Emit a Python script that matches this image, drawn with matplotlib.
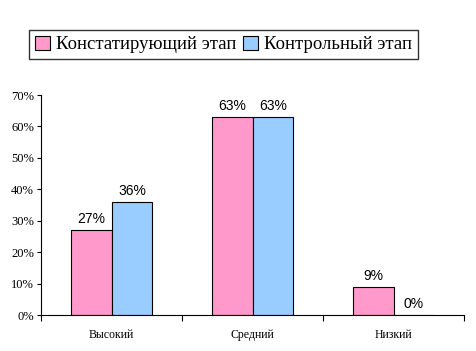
import matplotlib
matplotlib.use("Agg")
import matplotlib.pyplot as plt
from matplotlib.patches import Patch
import numpy as np

categories = ["Высокий", "Средний", "Низкий"]
series_names = ["Констатирующий этап", "Контрольный этап"]
s1 = [27, 63, 9]
s2 = [36, 63, 0]
colors = ["#FF99CC", "#99CCFF"]
yticks = [0, 10, 20, 30, 40, 50, 60, 70]

fig = plt.figure(figsize=(4.77, 3.51), dpi=100)
ax = fig.add_axes([41/477, 36/351, 423/477, 220/351])

x = np.arange(len(categories))
w = 0.29
b1 = ax.bar(x - w/2, s1, w, color=colors[0], edgecolor="black", linewidth=0.8)
b2 = ax.bar(x + w/2, s2, w, color=colors[1], edgecolor="black", linewidth=0.8)

for bars, vals in ((b1, s1), (b2, s2)):
    for r, v in zip(bars, vals):
        ax.annotate(f"{v}%", (r.get_x() + r.get_width()/2, v), xytext=(0, 3),
                    textcoords="offset points", ha="center", va="bottom",
                    fontsize=10, family="Liberation Sans")

ax.set_xlim(-0.5, len(categories) - 0.5)
ax.set_ylim(0, 70)
ax.set_yticks(yticks)
ax.set_yticklabels([f"{t}%" for t in yticks], family="Liberation Serif", fontsize=9)
ax.set_xticks(x)
ax.set_xticklabels(categories, family="Liberation Serif", fontsize=8.5)
ax.tick_params(axis="x", which="major", length=0, pad=10)
ax.set_xticks(np.arange(-0.5, len(categories)), minor=True)
ax.tick_params(axis="x", which="minor", length=4, width=0.8, direction="out")
ax.tick_params(axis="y", length=3, width=0.8, direction="out", pad=2)
for s in ("top", "right"):
    ax.spines[s].set_visible(False)
for s in ("left", "bottom"):
    ax.spines[s].set_linewidth(0.8)

handles = [Patch(facecolor=c, edgecolor="black", linewidth=0.8) for c in colors]
leg = fig.legend(handles, series_names, loc="center", bbox_to_anchor=(223.5/477, 306.5/351),
                 ncol=2, prop={"family": "Liberation Serif", "size": 13.5}, frameon=True,
                 fancybox=False, edgecolor="black", handlelength=0.8, handleheight=0.8,
                 handletextpad=0.3, columnspacing=0.4, borderpad=0.3, borderaxespad=0)
leg.get_frame().set_linewidth(1.0)

fig.savefig("out.png", dpi=100)
